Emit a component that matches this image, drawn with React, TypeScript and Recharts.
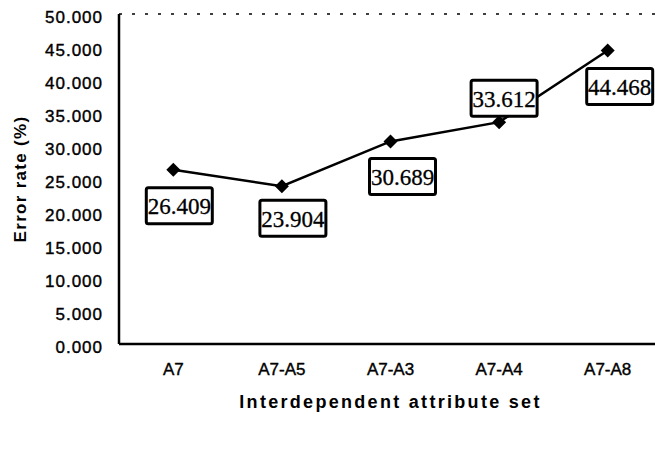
import React from 'react'
import { LineChart, Line, XAxis, YAxis, LabelList, ReferenceLine } from 'recharts'

const categories = ['A7', 'A7-A5', 'A7-A3', 'A7-A4', 'A7-A8']
const errorRates = [26.409, 23.904, 30.689, 33.612, 44.468]
const yTicks = [0, 5, 10, 15, 20, 25, 30, 35, 40, 45, 50]

const data = categories.map((name, i) => ({ name, rate: errorRates[i] }))

// where each boxed value sits relative to its point [dx, dy]
const boxOffsets = [[6, 36], [11, 32], [12, 35], [5, -24], [12, 36]]

const sans = '"Liberation Sans", Arial, sans-serif'
const serif = '"Liberation Serif", "Times New Roman", serif'

const Diamond = (p: any) => {
  const { cx, cy, index } = p
  const r = 7
  return <polygon key={`d${index}`} points={`${cx},${cy - r} ${cx + r},${cy} ${cx},${cy + r} ${cx - r},${cy}`} fill="#000" />
}

const ValueBox = (p: any) => {
  const { x, y, value, index } = p
  const [dx, dy] = boxOffsets[index] || [0, 30]
  const cx = x + dx
  const cy = y + dy
  const w = 66
  const h = 36
  return (
    <g>
      <rect x={cx - w / 2} y={cy - h / 2} width={w} height={h} fill="#fff" stroke="#000" strokeWidth={3} rx={2} />
      <text x={cx} y={cy + 1} textAnchor="middle" dominantBaseline="central" fontFamily={serif} fontSize={23}
        fill="#000" stroke="#000" strokeWidth={0.3}>
        {Number(value).toFixed(3)}
      </text>
    </g>
  )
}

export default function App() {
  return (
    <div style={{ position: 'absolute', left: 0, top: 0, width: 655, height: 462, overflow: 'hidden', background: '#fff' }}>
      <LineChart width={672} height={462} data={data} margin={{ top: 14, right: 10, bottom: 0, left: 0 }}>
        <ReferenceLine y={50} stroke="#000" strokeWidth={1.5} strokeDasharray="3 10" />
        <XAxis
          dataKey="name"
          scale="band"
          height={118}
          axisLine={{ stroke: '#000', strokeWidth: 2.5 }}
          tickLine={false}
          tickSize={0}
          tickMargin={19}
          tick={{ fill: '#000', stroke: '#000', strokeWidth: 0.4, fontFamily: sans, fontSize: 17 }}
          label={{
            value: 'Interdependent attribute set',
            position: 'insideBottom',
            offset: 54,
            style: { fill: '#000', fontFamily: sans, fontSize: 18, fontWeight: 'bold', letterSpacing: 2.3 },
          }}
        />
        <YAxis
          width={119}
          domain={[0, 50]}
          ticks={yTicks}
          interval={0}
          tickFormatter={(v: number) => v.toFixed(3)}
          axisLine={{ stroke: '#000', strokeWidth: 2.5 }}
          tickLine={false}
          tickSize={0}
          tickMargin={16}
          tick={{ fill: '#000', stroke: '#000', strokeWidth: 0.4, fontFamily: sans, fontSize: 17, letterSpacing: 1, dy: 3 }}
          label={{
            content: ({ viewBox }: any) => {
              const x = viewBox.x + 20
              const y = viewBox.y + viewBox.height / 2
              return (
                <text x={x} y={y} transform={`rotate(-90 ${x} ${y})`} textAnchor="middle" dominantBaseline="central"
                  fontFamily={sans} fontSize={17} fontWeight="bold" fill="#000" letterSpacing={1.3}>
                  Error rate (%)
                </text>
              )
            },
          }}
        />
        <Line
          dataKey="rate"
          stroke="#000"
          strokeWidth={2.5}
          dot={Diamond}
          activeDot={false}
          isAnimationActive={false}
        >
          <LabelList dataKey="rate" content={ValueBox} />
        </Line>
      </LineChart>
    </div>
  )
}
